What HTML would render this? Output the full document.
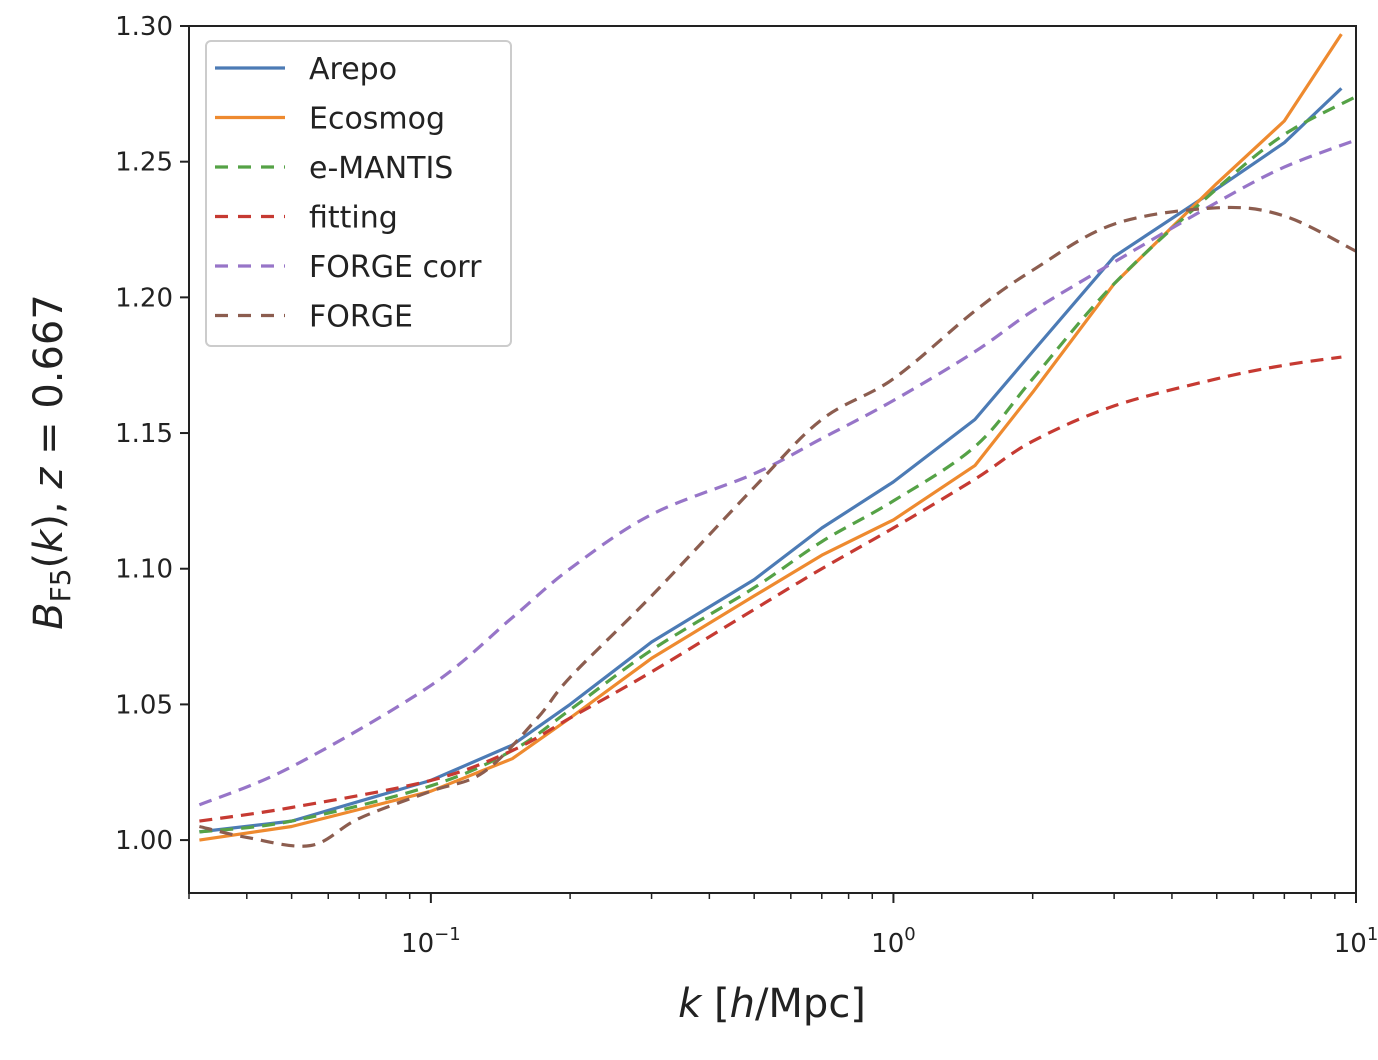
<!DOCTYPE html>
<html><head><meta charset="utf-8"><style>
html,body{margin:0;padding:0;background:#fff;width:1378px;height:1060px;overflow:hidden}
svg{display:block;font-family:"DejaVu Sans","Liberation Sans",sans-serif}
</style></head><body>
<svg id="chart" width="1378" height="1060" viewBox="0 0 1378 1060" xmlns="http://www.w3.org/2000/svg"></svg>
<script>
const kBase = [0.0316,0.05,0.1,0.15,0.2,0.3,0.5,0.7,1.0,1.5,2.0,3.0,5.0,7.0,9.3];
const kExt  = [0.0316,0.05,0.1,0.15,0.2,0.3,0.5,0.7,1.0,1.5,2.0,3.0,5.0,7.0,10];
const kForge = [0.0316,0.04,0.055,0.07,0.1,0.13,0.17,0.2,0.3,0.5,0.7,1.0,1.5,2.0,3.0,5.0,7.0,10];
const arepoVals   = [1.003,1.007,1.022,1.035,1.05,1.073,1.096,1.115,1.132,1.155,1.18,1.215,1.24,1.257,1.277];
const ecosmogVals = [1.000,1.005,1.018,1.03,1.045,1.067,1.09,1.105,1.118,1.138,1.165,1.205,1.242,1.265,1.297];
const mantisVals  = [1.003,1.007,1.02,1.033,1.048,1.07,1.093,1.11,1.125,1.145,1.17,1.205,1.24,1.26,1.274];
const fittingVals = [1.007,1.012,1.022,1.033,1.045,1.062,1.085,1.1,1.115,1.133,1.147,1.16,1.17,1.175,1.178];
const forgeCorrVals = [1.013,1.027,1.057,1.082,1.1,1.12,1.135,1.148,1.162,1.18,1.195,1.213,1.235,1.248,1.258];
const forgeVals = [1.005,1.001,0.998,1.008,1.018,1.025,1.045,1.06,1.09,1.13,1.155,1.17,1.195,1.21,1.227,1.233,1.23,1.217];
const yTicks = [1.00,1.05,1.10,1.15,1.20,1.25,1.30];
const yTickLabels = ["1.00","1.05","1.10","1.15","1.20","1.25","1.30"];
const xTickExps = [-1,0,1];

const L=189,R=1356,T=26,B=893;
const xMin=Math.log10(0.03), xMax=1;
const yMin=0.9805, yMax=1.30;
const X=k=>L+(Math.log10(k)-xMin)/(xMax-xMin)*(R-L);
const Y=v=>B-(v-yMin)/(yMax-yMin)*(B-T);
const svg=document.getElementById('chart');
const NS='http://www.w3.org/2000/svg';
function mk(tag,attrs,parent){const e=document.createElementNS(NS,tag);for(const a in attrs)e.setAttribute(a,attrs[a]);(parent||svg).appendChild(e);return e;}
function smoothPath(pts){
  let d='M'+pts[0][0].toFixed(1)+','+pts[0][1].toFixed(1);
  for(let i=0;i<pts.length-1;i++){
    const p0=pts[Math.max(0,i-1)],p1=pts[i],p2=pts[i+1],p3=pts[Math.min(pts.length-1,i+2)];
    const c1=[p1[0]+(p2[0]-p0[0])/6,p1[1]+(p2[1]-p0[1])/6];
    const c2=[p2[0]-(p3[0]-p1[0])/6,p2[1]-(p3[1]-p1[1])/6];
    d+=' C'+c1[0].toFixed(1)+','+c1[1].toFixed(1)+' '+c2[0].toFixed(1)+','+c2[1].toFixed(1)+' '+p2[0].toFixed(1)+','+p2[1].toFixed(1);
  }
  return d;
}
const series=[
 {name:'arepo',label:'Arepo',k:kBase,v:arepoVals,c:'#4c7bb5',dash:'',smooth:false},
 {name:'ecosmog',label:'Ecosmog',k:kBase,v:ecosmogVals,c:'#ee8a2f',dash:'',smooth:false},
 {name:'e-mantis',label:'e-MANTIS',k:kExt,v:mantisVals,c:'#55a246',dash:'13,8',smooth:true},
 {name:'fitting',label:'fitting',k:kBase,v:fittingVals,c:'#c63a32',dash:'13,8',smooth:true},
 {name:'forge-corr',label:'FORGE corr',k:kExt,v:forgeCorrVals,c:'#9775c8',dash:'13,8',smooth:true},
 {name:'forge',label:'FORGE',k:kForge,v:forgeVals,c:'#8c5d4f',dash:'13,8',smooth:true}
];
const defs=mk('defs',{});const cp=mk('clipPath',{id:'clip'},defs);mk('rect',{x:L,y:T,width:R-L,height:B-T},cp);
const g=mk('g',{'clip-path':'url(#clip)'});


series.forEach(s=>{
  const pts=s.k.map((k,i)=>[X(k),Y(s.v[i])]);
  const d=s.smooth?smoothPath(pts):pts.map((p,i)=>(i?'L':'M')+p[0].toFixed(1)+','+p[1].toFixed(1)).join(' ');
  const p=mk('path',{d:d,fill:'none',stroke:s.c,'stroke-width':3.2,'stroke-dasharray':s.dash,'stroke-linejoin':'round'},g);
  
  
});
const frame=mk('rect',{x:L,y:T,width:R-L,height:B-T,fill:'none',stroke:'#222','stroke-width':2});


yTicks.forEach((v,i)=>{
  mk('line',{x1:L-9,x2:L,y1:Y(v),y2:Y(v),stroke:'#222','stroke-width':2});
  const t=mk('text',{x:L-16,y:Y(v)+9,'text-anchor':'end','font-size':26,fill:'#222'});
  t.textContent=yTickLabels[i];
  
  
});
xTickExps.forEach(e=>{
  const x=X(Math.pow(10,e));
  mk('line',{x1:x,x2:x,y1:B,y2:B+10,stroke:'#222','stroke-width':2});
  const t=mk('text',{x:x,y:952,'text-anchor':'middle','font-size':26,fill:'#222'});
  
  
  const a=mk('tspan',{},t);a.textContent='10';
  const b=mk('tspan',{dy:-12,'font-size':18},t);b.textContent=e<0?'\u2212'+(-e):String(e);
});
for(let e=-2;e<1;e++)for(let m=2;m<10;m++){
  const k=m*Math.pow(10,e);if(k<0.03||k>10)continue;
  const x=X(k);mk('line',{x1:x,x2:x,y1:B,y2:B+6,stroke:'#222','stroke-width':1.5});
}
const xl=mk('text',{x:772,y:1017,'text-anchor':'middle','font-size':40,fill:'#222'});


xl.innerHTML='<tspan font-style="italic">k</tspan> [<tspan font-style="italic">h</tspan>/Mpc]';
const yl=mk('text',{x:0,y:0,'text-anchor':'middle','font-size':40,fill:'#222',transform:'translate(62,462) rotate(-90)'});


yl.innerHTML='<tspan font-style="italic">B</tspan><tspan font-size="28" dy="8">F5</tspan><tspan dy="-8">(</tspan><tspan font-style="italic">k</tspan>), <tspan font-style="italic">z</tspan> = 0.667';
const lg=mk('g',{});


mk('rect',{x:206,y:41,width:305,height:305,rx:5,fill:'#fff','fill-opacity':0.85,stroke:'#ccc','stroke-width':2},lg);
series.forEach((s,i)=>{
  const y=68+i*49.5;
  const e=mk('g',{},lg);
  
  
  mk('line',{x1:215,x2:285,y1:y,y2:y,stroke:s.c,'stroke-width':3.2,'stroke-dasharray':s.dash?'13,10':''},e);
  const t=mk('text',{x:309,y:y+11,'font-size':30,fill:'#222'},e);t.textContent=s.label;
});
</script>
</body></html>
